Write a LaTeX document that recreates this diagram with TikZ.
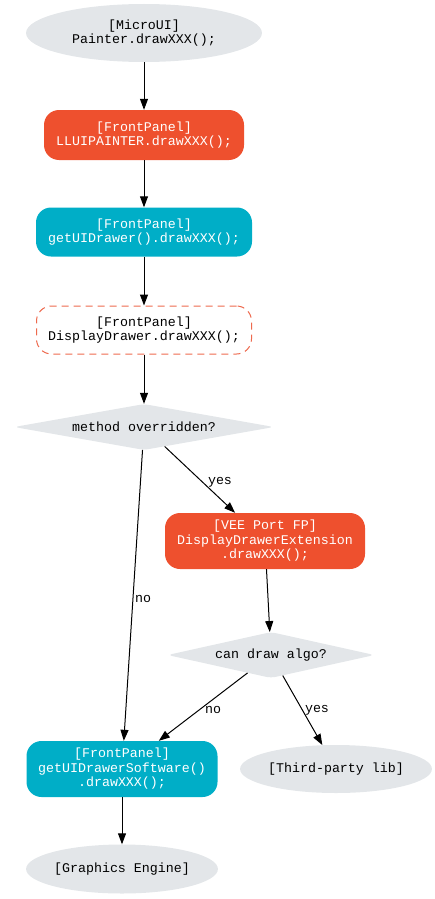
\documentclass[tikz,border=0pt]{standalone}
\usepackage{fontspec}
\setmonofont{Liberation Mono}
\usetikzlibrary{shapes.geometric,arrows.meta}
\definecolor{mgrey}{HTML}{E3E6E9}
\definecolor{morange}{HTML}{EE502E}
\definecolor{mcyan}{HTML}{00AEC7}
\definecolor{mdash}{HTML}{EE6A4E}
\tikzset{
  base/.style={font=\ttfamily\fontsize{13.3}{14.5}\selectfont, align=center, inner sep=0pt},
  oval/.style={base, ellipse, fill=mgrey, text=black},
  rbox/.style={base, rectangle, rounded corners=15pt, text=white},
  orangebox/.style={rbox, fill=morange},
  cyanbox/.style={rbox, fill=mcyan},
  dashbox/.style={base, rectangle, rounded corners=15pt, draw=mdash, line width=1pt, dash pattern=on 7pt off 5pt, fill=white, text=black},
  decision/.style={base, diamond, aspect=5.6, fill=mgrey, text=black, rounded corners=5pt},
  flow/.style={-{Triangle[length=11pt,width=8pt]}, line width=1pt, black},
  elabel/.style={font=\ttfamily\fontsize{13.3}{14}\selectfont, inner sep=0pt, text=black}
}
\begin{document}
\begin{tikzpicture}[x=1pt,y=-1pt]
\useasboundingbox (0,0) rectangle (435,899);
\node[oval, minimum width=236pt, minimum height=58pt] (microui) at (144,33) {[MicroUI]\\Painter.drawXXX();};
\node[orangebox, minimum width=200pt, minimum height=50pt] (llui) at (144,135) {[FrontPanel]\\LLUIPAINTER.drawXXX();};
\node[cyanbox, minimum width=216pt, minimum height=49pt] (getui) at (144,232) {[FrontPanel]\\getUIDrawer().drawXXX();};
\node[dashbox, minimum width=215pt, minimum height=48pt] (dd) at (144,330) {[FrontPanel]\\DisplayDrawer.drawXXX();};
\node[decision, minimum width=260pt, minimum height=46pt] (over) at (144,427) {method overridden?};
\node[orangebox, minimum width=200pt, minimum height=56pt] (vee) at (265,541) {[VEE Port FP]\\DisplayDrawerExtension\\.drawXXX();};
\node[decision, minimum width=207pt, minimum height=46pt] (algo) at (271,655) {can draw algo?};
\node[cyanbox, minimum width=191pt, minimum height=56pt] (soft) at (122,769) {[FrontPanel]\\getUIDrawerSoftware()\\.drawXXX();};
\node[oval, minimum width=188pt, minimum height=48pt] (third) at (336,769) {[Third-party lib]};
\node[oval, minimum width=187pt, minimum height=49pt] (ge) at (122,869) {[Graphics Engine]};

\draw[flow] (microui) -- (llui);
\draw[flow] (llui) -- (getui);
\draw[flow] (getui) -- (dd);
\draw[flow] (dd) -- (over);
\draw[flow] (over) -- (vee);
\draw[flow] (over) -- (soft);
\draw[flow] (vee) -- (algo);
\draw[flow] (algo) -- (soft);
\draw[flow] (algo) -- (third);
\draw[flow] (soft) -- (ge);

\node[elabel] (l1) at (220,482) {yes};
\node[elabel] (l2) at (143,599) {no};
\node[elabel] (l3) at (213,710) {no};
\node[elabel] (l4) at (317,710) {yes};
\end{tikzpicture}
\end{document}
